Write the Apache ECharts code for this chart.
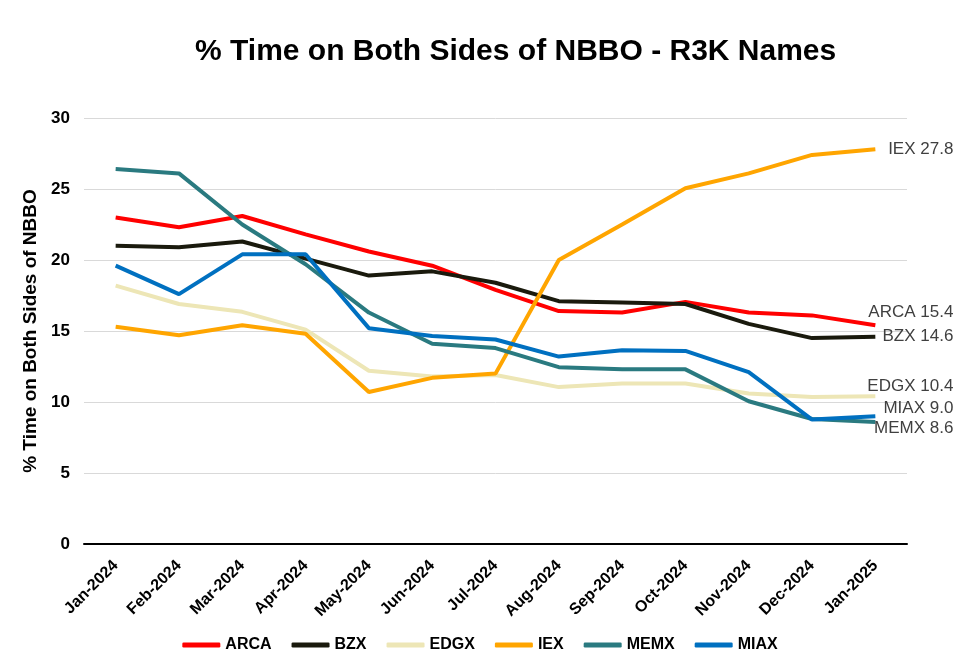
<!DOCTYPE html>
<html><head><meta charset="utf-8">
<script src="https://cdn.jsdelivr.net/npm/echarts@6/dist/echarts.min.js"></script>
<style>html,body{margin:0;padding:0;background:#fff}#c{width:960px;height:670px}</style>
</head><body><div id="c"></div>
<script>
const categories = ['Jan-2024','Feb-2024','Mar-2024','Apr-2024','May-2024','Jun-2024','Jul-2024','Aug-2024','Sep-2024','Oct-2024','Nov-2024','Dec-2024','Jan-2025'];
const ARCA = [23.0,22.3,23.1,21.8,20.6,19.6,17.9,16.4,16.3,17.05,16.3,16.1,15.4];
const BZX  = [21.0,20.9,21.3,20.1,18.9,19.2,18.4,17.1,17.0,16.9,15.5,14.5,14.6];
const EDGX = [18.2,16.9,16.35,15.1,12.2,11.8,11.9,11.05,11.3,11.3,10.6,10.35,10.4];
const IEX  = [15.3,14.7,15.4,14.8,10.7,11.7,12.0,20.0,22.5,25.05,26.1,27.4,27.8];
const MEMX = [26.4,26.1,22.5,19.7,16.3,14.1,13.8,12.45,12.3,12.3,10.05,8.8,8.6];
const MIAX = [19.6,17.6,20.4,20.4,15.2,14.65,14.4,13.2,13.65,13.6,12.1,8.76,9.0];
const yTicks = [0,5,10,15,20,25,30];

const seriesDefs = [
  {name:'ARCA', data:ARCA, color:'#ff0000', dy:-13},
  {name:'BZX',  data:BZX,  color:'#1a1a0d', dy:0},
  {name:'EDGX', data:EDGX, color:'#ede6b6', dy:-10},
  {name:'IEX',  data:IEX,  color:'#ffa500', dy:0},
  {name:'MEMX', data:MEMX, color:'#2a7a80', dy:6},
  {name:'MIAX', data:MIAX, color:'#0070c0', dy:-8}
];
const font = 'Liberation Sans, Arial, sans-serif';
const chart = echarts.init(document.getElementById('c'));
chart.setOption({
  backgroundColor:'#fff',
  animation:false,
  title:{text:'% Time on Both Sides of NBBO - R3K Names', left:190, top:32,
    textStyle:{fontFamily:font, fontWeight:'bold', fontSize:30, color:'#000'}},
  legend:{bottom:12, left:'center', itemWidth:38, itemHeight:5, itemGap:20, icon:'roundRect',
    textStyle:{fontFamily:font, fontWeight:'bold', fontSize:16, color:'#000'},
    data:seriesDefs.map(s=>s.name)},
  grid:{left:84, right:53, top:118, bottom:126},
  xAxis:{type:'category', data:categories, boundaryGap:true,
    axisLine:{lineStyle:{color:'#000', width:2}}, axisTick:{show:false},
    axisLabel:{rotate:45, fontFamily:font, fontWeight:'bold', fontSize:16, color:'#000', interval:0, margin:19}},
  yAxis:{type:'value', min:0, max:30, interval:5,
    name:'% Time on Both Sides of NBBO', nameLocation:'middle', nameGap:30,
    nameTextStyle:{fontFamily:font, fontWeight:'bold', fontSize:19, color:'#000'},
    axisLine:{show:false}, axisTick:{show:false},
    axisLabel:{fontFamily:font, fontWeight:'bold', fontSize:17, color:'#000', margin:14,
      formatter:v=>yTicks.includes(v)?String(v):''},
    splitLine:{lineStyle:{color:'#d9d9d9', width:1}}},
  series:seriesDefs.map(s=>({
    name:s.name, type:'line', data:s.data, symbol:'none',
    lineStyle:{color:s.color, width:4}, itemStyle:{color:s.color},
    endLabel:{show:true, position:'right', distance:0, align:'right', offset:[78, s.dy],
      fontFamily:font, fontSize:17, color:'#404040',
      formatter:p=>s.name+' '+Number(s.data[s.data.length-1]).toFixed(1)}
  }))
});
</script></body></html>
